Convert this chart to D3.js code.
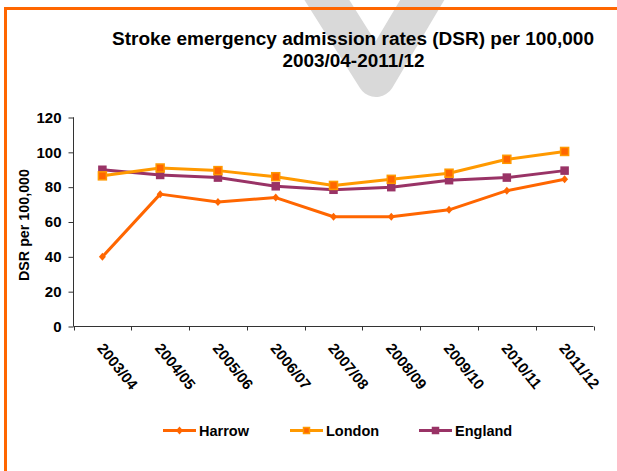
<!DOCTYPE html>
<html>
<head>
<meta charset="utf-8">
<script src="https://cdn.jsdelivr.net/npm/d3@7"></script>
<style>
html,body{margin:0;padding:0;background:#fff;}
svg{display:block;}
text{font-family:"Liberation Sans",Arial,sans-serif;font-weight:bold;fill:#000;}
</style>
</head>
<body>
<script>
const categories = ["2003/04","2004/05","2005/06","2006/07","2007/08","2008/09","2009/10","2010/11","2011/12"];
const harrow  = [40, 76, 71.5, 74, 63, 63, 67, 78, 84.5];
const london  = [86.5, 91, 89.5, 86, 81, 84.5, 88, 96, 100.5];
const england = [90, 87, 85.5, 80.5, 78.5, 80, 84, 85.5, 89.5];
const yTicks = [0, 20, 40, 60, 80, 100, 120];
const seriesNames = ["Harrow", "London", "England"];
const titleLines = ["Stroke emergency admission rates (DSR) per 100,000", "2003/04-2011/12"];
const yTitle = "DSR per 100,000";

const W = 617, H = 471;
const svg = d3.select("body").append("svg").attr("width", W).attr("height", H);

// watermark
svg.append("path")
  .attr("d", d3.line()([[308,-30],[376,78],[440,-30]]))
  .attr("fill","none").attr("stroke","#d9d9d9").attr("stroke-width",38)
  .attr("stroke-linejoin","round");

// frame (left + top orange)
svg.append("path").attr("d","M5.5,471 L5.5,8.5 L617,8.5")
  .attr("fill","none").attr("stroke","#ff6600").attr("stroke-width",3);

// title
svg.append("text").attr("x",353).attr("y",45).attr("text-anchor","middle")
  .attr("font-size",18).attr("textLength",482).attr("lengthAdjust","spacingAndGlyphs")
  .text(titleLines[0]);
svg.append("text").attr("x",353.5).attr("y",66.5).attr("text-anchor","middle")
  .attr("font-size",18).attr("textLength",142).attr("lengthAdjust","spacingAndGlyphs")
  .text(titleLines[1]);

const x = d3.scaleBand().domain(categories).range([73.5, 593.5]);
const y = d3.scaleLinear().domain([0,120]).range([326.5, 117.5]);

// y axis
const gy = svg.append("g").attr("transform","translate(73.5,0)")
  .call(d3.axisLeft(y).tickValues(yTicks).tickSize(5).tickPadding(7).tickFormat(d3.format("d")));
gy.select(".domain").attr("stroke","#333").attr("d","M-0.5,117.5H0V326.5");
gy.selectAll(".tick line").attr("stroke","#333");
gy.selectAll(".tick text").attr("font-size",15).attr("font-family",null).attr("fill","#000");

// x axis
const gx = svg.append("g").attr("transform","translate(0,326.5)");
gx.append("line").attr("x1",73.5).attr("x2",593.5).attr("stroke","#333");
const edges = categories.map(c => x(c)).concat([x.range()[1]]);
gx.selectAll("line.tk").data(edges).join("line").attr("class","tk")
  .attr("x1",d=>Math.round(d)+0.5).attr("x2",d=>Math.round(d)+0.5).attr("y1",0).attr("y2",4).attr("stroke","#333");
gx.selectAll("text").data(categories).join("text")
  .attr("transform", d => `translate(${x(d)+x.bandwidth()/2-6},${22}) rotate(51)`)
  .attr("font-size",15).text(d=>d);

// y title
svg.append("text").attr("transform","translate(29,225) rotate(-90)")
  .attr("text-anchor","middle").attr("font-size",14.3).text(yTitle);

const cx = d => x(d) + x.bandwidth()/2;
const line = d3.line().x(d=>cx(d.c)).y(d=>y(d.v));
const series = [
  {name: seriesNames[0], vals: harrow, color:"#ff6600", marker:"diamond"},
  {name: seriesNames[1], vals: london, color:"#ff9900", marker:"square", mfill:"#ff6600", msize:8},
  {name: seriesNames[2], vals: england, color:"#993366", marker:"square", mfill:"#993366", msize:7}
];

function drawMarker(g, s, px, py) {
  if (s.marker === "diamond") {
    g.append("path").attr("d",`M${px},${py-4}L${px+3.5},${py}L${px},${py+4}L${px-3.5},${py}Z`)
      .attr("fill",s.color);
  } else {
    const m = s.msize;
    g.append("rect").attr("x",px-m/2).attr("y",py-m/2).attr("width",m).attr("height",m)
      .attr("fill",s.mfill).attr("stroke",s.color).attr("stroke-width",1.5);
  }
}

series.slice().reverse().forEach(s => {
  const data = categories.map((c,i)=>({c, v:s.vals[i]}));
  svg.append("path").datum(data).attr("d",line).attr("fill","none")
    .attr("stroke",s.color).attr("stroke-width",3).attr("stroke-linejoin","round");
  const g = svg.append("g");
  data.forEach(d => drawMarker(g, s, cx(d.c), y(d.v)));
});

// legend
const legX = [163, 290, 419];
series.forEach((s,i) => {
  const g = svg.append("g").attr("transform",`translate(${legX[i]},430.5)`);
  g.append("line").attr("x1",0).attr("x2",33).attr("stroke",s.color).attr("stroke-width",3);
  drawMarker(g, s.marker==="square" ? Object.assign({}, s, {msize:6}) : s, 16.5, 0);
  g.append("text").attr("x",36).attr("y",5).attr("font-size",14.5).text(s.name);
});
</script>
</body>
</html>
